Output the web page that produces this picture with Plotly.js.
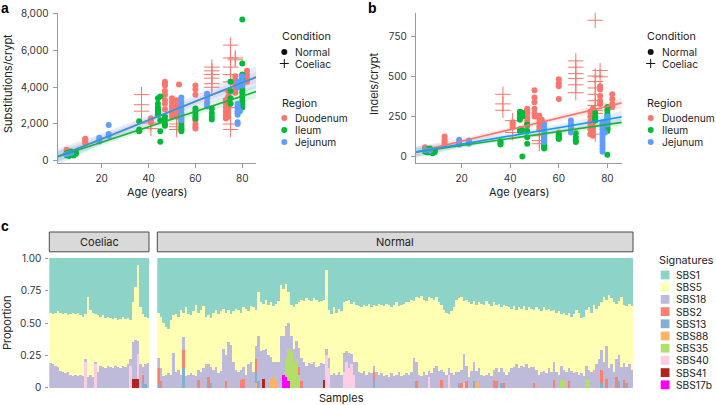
<!DOCTYPE html>
<html><head><meta charset="utf-8">
<script src="https://cdn.plot.ly/plotly-3.0.1.min.js"></script>
<style>html,body{margin:0;padding:0;background:#fff}#chart{width:716px;height:405px}</style>
</head><body><div id="chart"></div>
<script>
// ---------- Panel a/b data (age, substitutions per crypt, indels per crypt) ----------
const duoAge = [5,6,13,13,13,13,41,41,41,47,47,47,47,47,47,47,47,50,50,50,50,50,50,52,52,52,52,52,53,60,60,60,60,60,60,60,65,65,73,73,73,73,73,73,74,74,74,74,74,74,74,77,77,77,77,77,82,82,82,82];
const duoSubs = [600,500,950,1050,1150,1200,2200,2100,2300,4300,4200,4100,3800,3600,3300,3100,2800,3400,3200,3000,2800,2600,2400,3300,3000,2800,2600,2400,4150,4100,3900,3600,2200,2000,1850,1750,3600,3200,3300,3100,2900,2700,2500,2300,3800,3500,3200,3000,2800,2600,2400,4600,4400,4200,3900,3700,4900,4700,4500,4300];
const duoIndels = [58,45,75,90,105,125,200,185,215,300,290,275,260,240,220,205,190,415,370,340,300,270,250,255,230,210,190,170,230,485,460,440,360,150,135,120,200,180,280,250,220,200,170,140,300,270,240,210,180,160,130,440,420,380,350,330,390,360,330,310];

const ileAge = [5,5,6,6,7,7,8,8,9,9,36,36,36,44,44,44,44,44,44,44,45,45,45,45,47,47,47,47,54,54,54,54,54,54,54,60,60,60,60,60,67,67,67,67,75,75,75,75,80,80,80,80,80,80,80,80,80,80,80,80];
const ileSubs = [300,400,250,450,350,500,280,420,380,460,2150,1700,1600,3400,3100,2900,2800,2700,2600,2500,3500,1030,1600,2200,2400,2200,2000,1900,2500,2300,2100,1900,1800,1700,1600,2850,2700,2550,2400,2300,2850,2600,2400,2250,4300,3800,3400,3100,7700,5300,4700,4500,4300,4100,3900,3700,3500,3300,3100,2900];
const ileIndels = [30,40,25,45,35,50,20,38,42,28,95,85,75,280,265,250,240,230,170,160,275,0,165,250,160,120,80,200,70,60,50,130,110,90,55,140,130,125,115,110,145,120,100,90,275,250,235,225,10,310,290,270,255,240,225,210,195,180,170,160];

const jejAge = [5,7,19,19,19,23,23,23,54,54,54,54,54,54,54,65,65,65,65,78,78,78,78,78,78,78,78,78,78,78,79,80,80,80];
const jejSubs = [350,420,1050,1200,1250,1950,1450,1350,3450,3200,3000,2800,2600,2400,2200,3650,3400,3100,2950,4300,4000,3000,2900,2800,2700,2600,2100,2000,3100,2500,2700,4600,4300,4100];
const jejIndels = [40,35,105,90,75,100,90,80,205,180,160,140,120,100,90,225,200,175,150,215,200,185,170,150,130,110,90,70,50,30,150,250,230,200];

const coeAge = [37,37,37,41,41,52,52,52,67,67,67,67,67,67,75,75,75,75,75,75,75,75,75,75,77,77];
const coeSubs = [3600,3050,2700,1750,2050,1700,1850,2000,5100,4900,4700,4500,4200,4000,6300,5600,5100,4700,4300,3800,3400,2900,2000,1700,5600,5500];
const coeIndels = [390,330,290,225,150,80,100,130,600,560,520,490,450,400,855,505,470,430,390,350,320,290,270,140,540,500];

// fitted lines and confidence bands
const fitAge = [0,20,45,65,87];
const fitSubsDuo = [170,1188,2460,3478,4598], loSubsDuo=[-130,1018,2320,3278,4278], hiSubsDuo=[470,1358,2600,3678,4918];
const fitSubsIle = [172,1008,2053,2889,3809], loSubsIle=[-128,828,1903,2669,3429], hiSubsIle=[472,1188,2203,3109,4189];
const fitSubsJej = [160,1184,2464,3488,4614], loSubsJej=[-290,904,2214,3108,4014], hiSubsJej=[610,1464,2714,3868,5214];
const fitIndDuo = [22,95,186,259,340], loIndDuo=[-13,75,171,239,305], hiIndDuo=[57,115,201,279,375];
const fitIndIle = [25,69,124,168,216], loIndIle=[-3,54,113,154,191], hiIndIle=[53,84,135,182,241];
const fitIndJej = [25,77,142,194,251], loIndJej=[-10,57,126,172,213], hiIndJej=[60,97,158,216,289];

const subsTicks = [0,2000,4000,6000,8000];
const indelTicks = [0,250,500,750];
const ageTicks = [20,40,60,80];

// ---------- Panel c data (signature proportions per sample) ----------
const signatures = ['SBS1','SBS5','SBS18','SBS2','SBS13','SBS88','SBS35','SBS40','SBS41','SBS17b'];
const sigColors = ['#8DD3C7','#FFFFB3','#BEBADA','#FB8072','#80B1D3','#FDB462','#B3DE69','#FCCDE5','#B22222','#FF00FF'];
const propTicks = [0,0.25,0.5,0.75,1];
const propTickText = ['0','0.25','0.50','0.75','1.00'];

const coeSBS1 = [0.42,0.43,0.42,0.41,0.42,0.43,0.42,0.44,0.43,0.42,0.43,0.42,0.44,0.45,0.43,0.30,0.40,0.42,0.43,0.44,0.45,0.44,0.46,0.45,0.46,0.47,0.46,0.48,0.47,0.45,0.47,0.46,0.48,0.34,0.22,0.05,0.38,0.43,0.45,0.46];
const coeSBS18 = [0.19,0.18,0.17,0.16,0.13,0.12,0.11,0.12,0.10,0.09,0.10,0.09,0.10,0.09,0.02,0.08,0.10,0.08,0.02,0.12,0.17,0.16,0.15,0.17,0.16,0.15,0.17,0.16,0.15,0.17,0.16,0.18,0.05,0.28,0.30,0.10,0.18,0.06,0.15,0.19];
const coeSBS2Idx=[37], coeSBS2Val=[0.05];
const coeSBS13Idx=[37,38], coeSBS13Val=[0.05,0.03];
const coeSBS88Idx=[], coeSBS88Val=[];
const coeSBS35Idx=[], coeSBS35Val=[];
const coeSBS40Idx=[14,18,32,35], coeSBS40Val=[0.20,0.18,0.17,0.19];
const coeSBS41Idx=[33,34,35], coeSBS41Val=[0.07,0.07,0.07];
const coeSBS17bIdx=[], coeSBS17bVal=[];

const norSBS1 = [0.42,0.45,0.50,0.53,0.55,0.48,0.44,0.43,0.45,0.40,
0.42,0.38,0.43,0.44,0.41,0.36,0.42,0.40,0.37,0.45,
0.44,0.46,0.42,0.40,0.43,0.41,0.39,0.42,0.40,0.43,
0.41,0.39,0.40,0.42,0.38,0.39,0.41,0.37,0.38,0.40,
0.26,0.34,0.35,0.32,0.36,0.34,0.37,0.35,0.33,0.21,
0.24,0.20,0.26,0.36,0.38,0.35,0.34,0.32,0.33,0.31,
0.32,0.33,0.31,0.32,0.34,0.33,0.32,0.09,0.40,0.43,
0.38,0.42,0.39,0.41,0.34,0.33,0.32,0.35,0.34,0.36,
0.37,0.38,0.36,0.37,0.35,0.38,0.36,0.37,0.35,0.36,
0.37,0.35,0.36,0.38,0.36,0.34,0.37,0.36,0.35,0.34,
0.34,0.32,0.33,0.30,0.31,0.29,0.32,0.33,0.30,0.31,
0.32,0.30,0.34,0.36,0.40,0.42,0.43,0.41,0.38,0.32,
0.31,0.30,0.33,0.32,0.34,0.35,0.33,0.36,0.34,0.35,
0.36,0.33,0.35,0.37,0.34,0.36,0.35,0.38,0.36,0.37,
0.38,0.39,0.37,0.40,0.38,0.39,0.37,0.40,0.38,0.39,
0.40,0.38,0.39,0.41,0.38,0.40,0.39,0.41,0.40,0.42,
0.41,0.43,0.42,0.44,0.42,0.45,0.43,0.40,0.42,0.46,
0.45,0.40,0.38,0.42,0.36,0.39,0.37,0.34,0.30,0.32,
0.28,0.31,0.34,0.35,0.33,0.30,0.36,0.37,0.35,0.37];
const norSBS18 = [0.08,0.10,0.09,0.10,0.11,0.10,0.27,0.12,0.14,0.10,
0.10,0.09,0.10,0.11,0.10,0.09,0.08,0.12,0.15,0.18,
0.10,0.12,0.14,0.16,0.11,0.13,0.30,0.20,0.35,0.33,
0.20,0.14,0.12,0.08,0.09,0.10,0.18,0.20,0.12,0.10,
0.35,0.28,0.22,0.30,0.25,0.18,0.12,0.15,0.20,0.40,
0.30,0.25,0.20,0.12,0.10,0.14,0.15,0.18,0.20,0.17,
0.19,0.18,0.20,0.16,0.17,0.19,0.12,0.05,0.08,0.10,
0.11,0.10,0.12,0.10,0.15,0.08,0.12,0.08,0.10,0.20,
0.12,0.11,0.13,0.10,0.12,0.11,0.05,0.12,0.10,0.11,
0.09,0.10,0.08,0.11,0.09,0.10,0.12,0.09,0.10,0.11,
0.10,0.12,0.23,0.15,0.10,0.09,0.12,0.10,0.05,0.11,
0.15,0.17,0.13,0.08,0.12,0.10,0.05,0.11,0.10,0.12,
0.08,0.10,0.22,0.12,0.08,0.13,0.15,0.08,0.11,0.10,
0.09,0.10,0.11,0.09,0.08,0.10,0.12,0.11,0.08,0.10,
0.12,0.15,0.16,0.18,0.15,0.17,0.16,0.18,0.15,0.16,
0.12,0.14,0.10,0.12,0.13,0.11,0.15,0.12,0.14,0.12,
0.10,0.11,0.09,0.12,0.10,0.13,0.11,0.12,0.10,0.11,
0.09,0.10,0.08,0.12,0.14,0.18,0.22,0.15,0.20,0.25,
0.15,0.18,0.12,0.14,0.20,0.16,0.13,0.12,0.18,0.14];
const norSBS2Idx=[0,1,10,16,20,27,33,34,39,56,57,86,103,113,121,123,134,135,138,150,158,164,177,179,183,186];
const norSBS2Val=[0.12,0.05,0.14,0.06,0.08,0.05,0.06,0.07,0.10,0.06,0.05,0.07,0.05,0.06,0.04,0.05,0.06,0.05,0.04,0.04,0.06,0.05,0.10,0.07,0.08,0.06];
const norSBS13Idx=[0,10,21,39,40,86,120,126,137,177,184,187];
const norSBS13Val=[0.03,0.15,0.04,0.08,0.05,0.05,0.04,0.05,0.04,0.04,0.05,0.04];
const norSBS88Idx=[39,45,46,47,127,128], norSBS88Val=[0.04,0.06,0.08,0.05,0.05,0.04];
const norSBS35Idx=[51,52,53,54,55,56,161,162,171,172], norSBS35Val=[0.15,0.25,0.28,0.20,0.22,0.10,0.06,0.05,0.07,0.06];
const norSBS40Idx=[67,68,74,75,76,77,78,108,116,122], norSBS40Val=[0.25,0.15,0.12,0.20,0.15,0.18,0.10,0.08,0.10,0.04];
const norSBS41Idx=[42,66], norSBS41Val=[0.07,0.06];
const norSBS17bIdx=[50,51,52], norSBS17bVal=[0.10,0.08,0.05];

// ---------- build ----------
const W=716,H=405;
const fx=p=>p/W, fy=p=>1-p/H;
const FONT='Inter, "Noto Sans", sans-serif';
const C={Duodenum:'#F8766D',Ileum:'#00BA38',Jejunum:'#619CFF'};
const LINE={Duodenum:'#F8766D',Ileum:'#1DB33A',Jejunum:'#1E9BEF'};
const BAND={Duodenum:'rgba(248,118,109,0.15)',Ileum:'rgba(0,186,56,0.13)',Jejunum:'rgba(97,156,255,0.18)'};
const traces=[];

function band(xa,ya,lo,hi,col){
  traces.push({type:'scatter',mode:'lines',x:fitAge.concat(fitAge.slice().reverse()),
    y:hi.concat(lo.slice().reverse()),fill:'toself',fillcolor:col,line:{width:0},
    hoverinfo:'skip',showlegend:false,xaxis:xa,yaxis:ya});
}
function pts(xa,ya,x,y,col){
  traces.push({type:'scatter',mode:'markers',x:x,y:y,xaxis:xa,yaxis:ya,showlegend:false,
    marker:{size:6,color:col,line:{width:0}}});
}
function crosses(xa,ya,x,y,col){
  traces.push({type:'scatter',mode:'markers',x:x,y:y,xaxis:xa,yaxis:ya,showlegend:false,
    marker:{symbol:'cross-thin',size:11,color:col,line:{width:1,color:col}}});
}
function fit(xa,ya,y,col){
  traces.push({type:'scatter',mode:'lines',x:fitAge,y:y,xaxis:xa,yaxis:ya,showlegend:false,
    line:{color:col,width:1.7}});
}
// panel a
band('x','y',loSubsDuo,hiSubsDuo,BAND.Duodenum);
band('x','y',loSubsIle,hiSubsIle,BAND.Ileum);
band('x','y',loSubsJej,hiSubsJej,BAND.Jejunum);
pts('x','y',duoAge,duoSubs,C.Duodenum);
crosses('x','y',coeAge,coeSubs,C.Duodenum);
pts('x','y',ileAge,ileSubs,C.Ileum);
pts('x','y',jejAge,jejSubs,C.Jejunum);
fit('x','y',fitSubsDuo,LINE.Duodenum);
fit('x','y',fitSubsIle,LINE.Ileum);
fit('x','y',fitSubsJej,LINE.Jejunum);
// panel b
band('x2','y2',loIndDuo,hiIndDuo,BAND.Duodenum);
band('x2','y2',loIndIle,hiIndIle,BAND.Ileum);
band('x2','y2',loIndJej,hiIndJej,BAND.Jejunum);
pts('x2','y2',duoAge,duoIndels,C.Duodenum);
crosses('x2','y2',coeAge,coeIndels,C.Duodenum);
pts('x2','y2',ileAge,ileIndels,C.Ileum);
pts('x2','y2',jejAge,jejIndels,C.Jejunum);
fit('x2','y2',fitIndDuo,LINE.Duodenum);
fit('x2','y2',fitIndIle,LINE.Ileum);
fit('x2','y2',fitIndJej,LINE.Jejunum);

// panel c
function fromSparse(n,idx,val){const a=new Array(n).fill(0);idx.forEach((k,j)=>{a[k]=val[j];});return a;}
const MINOR=['SBS2','SBS13','SBS88','SBS35','SBS40','SBS41','SBS17b'];
function buildSet(sbs1,sbs18,minor){
  const n=sbs1.length; const set={SBS1:sbs1,SBS18:sbs18};
  MINOR.forEach(s=>{set[s]=fromSparse(n,minor[s][0],minor[s][1]);});
  set.SBS5=sbs1.map((v,i)=>{let r=1-v-sbs18[i];MINOR.forEach(s=>{r-=set[s][i];});return Math.max(r,0);});
  return set;
}
const coeSet=buildSet(coeSBS1,coeSBS18,{SBS2:[coeSBS2Idx,coeSBS2Val],SBS13:[coeSBS13Idx,coeSBS13Val],SBS88:[coeSBS88Idx,coeSBS88Val],SBS35:[coeSBS35Idx,coeSBS35Val],SBS40:[coeSBS40Idx,coeSBS40Val],SBS41:[coeSBS41Idx,coeSBS41Val],SBS17b:[coeSBS17bIdx,coeSBS17bVal]});
const norSet=buildSet(norSBS1,norSBS18,{SBS2:[norSBS2Idx,norSBS2Val],SBS13:[norSBS13Idx,norSBS13Val],SBS88:[norSBS88Idx,norSBS88Val],SBS35:[norSBS35Idx,norSBS35Val],SBS40:[norSBS40Idx,norSBS40Val],SBS41:[norSBS41Idx,norSBS41Val],SBS17b:[norSBS17bIdx,norSBS17bVal]});
const stackOrder=signatures.slice().reverse(); // bottom to top
[[coeSet,'x3','y3'],[norSet,'x4','y4']].forEach(([set,xa,ya])=>{
  stackOrder.forEach(s=>{
    const k=signatures.indexOf(s);
    traces.push({type:'bar',x:set.SBS1.map((_,i)=>i),y:set[s],xaxis:xa,yaxis:ya,showlegend:false,
      marker:{color:sigColors[k],line:{width:0}},width:1,hoverinfo:'skip'});
  });
});

// ---------- layout ----------
const axBase={showgrid:false,zeroline:false,showline:true,linecolor:'#9a9a9a',linewidth:1,ticks:'outside',
  ticklen:4,tickcolor:'#9a9a9a',tickfont:{family:FONT,size:10,color:'#333'},ticklabelstandoff:2};
const aDomY=[fy(163.3),fy(12.6)];
const cDomY=[fy(394.2),fy(251.8)];
const layout={
  width:W,height:H,margin:{l:0,r:0,t:0,b:0},paper_bgcolor:'#fff',plot_bgcolor:'rgba(0,0,0,0)',
  barmode:'stack',bargap:0,showlegend:false,font:{family:FONT,color:'#222'},
  xaxis:Object.assign({},axBase,{domain:[fx(57.5),fx(256)],range:[1.15,85.85],tickvals:ageTicks,anchor:'y'}),
  yaxis:Object.assign({},axBase,{domain:aDomY,range:[-143,8073],tickvals:subsTicks,tickformat:',',anchor:'x'}),
  xaxis2:Object.assign({},axBase,{domain:[fx(415.8),fx(621.6)],range:[1.15,85.85],tickvals:ageTicks,anchor:'y2'}),
  yaxis2:Object.assign({},axBase,{domain:aDomY,range:[-43,903],tickvals:indelTicks,anchor:'x2'}),
  xaxis3:{domain:[fx(49.3),fx(149)],range:[-0.5,39.5],anchor:'y3',showticklabels:false,ticks:'',showgrid:false,zeroline:false,showline:false},
  yaxis3:Object.assign({},axBase,{domain:cDomY,range:[-0.05,1.05],tickvals:propTicks,ticktext:propTickText,anchor:'x3',showline:false,ticklen:3}),
  xaxis4:{domain:[fx(157.3),fx(633)],range:[-0.5,189.5],anchor:'y4',showticklabels:false,ticks:'',showgrid:false,zeroline:false,showline:false},
  yaxis4:{domain:cDomY,range:[-0.05,1.05],anchor:'x4',showticklabels:false,ticks:'',showgrid:false,zeroline:false,showline:false},
  shapes:[],annotations:[]
};
function ann(text,x,y,o){layout.annotations.push(Object.assign({text:text,x:fx(x),y:fy(y),xref:'paper',yref:'paper',
  showarrow:false,xanchor:'left',yanchor:'middle',borderpad:0,font:{family:FONT,size:11,color:'#222'}},o||{}));}
const LEG={font:{family:FONT,size:10.2,color:'#222'}};
// panel letters
const bold={font:{family:'"Liberation Sans", Arial, sans-serif',size:14,color:'#000',weight:700}};
ann('<b>a</b>',0,8,bold); ann('<b>b</b>',367,8,bold); ann('<b>c</b>',0,226,bold);
// axis titles
ann('Age (years)',157,192,{xanchor:'center'});
ann('Age (years)',518.7,192,{xanchor:'center'});
ann('Substitutions/crypt',8,84,{xanchor:'center',textangle:-90});
ann('Indels/crypt',374,84,{xanchor:'center',textangle:-90});
ann('Proportion',7,323,{xanchor:'center',textangle:-90});
ann('Samples',341,398,{xanchor:'center'});
// strips
[[49.3,149,'Coeliac'],[157.3,633,'Normal']].forEach(([x0,x1,t])=>{
  layout.shapes.push({type:'rect',xref:'paper',yref:'paper',x0:fx(x0),x1:fx(x1),y0:fy(251.8),y1:fy(232),
    line:{color:'#4a4a4a',width:1},fillcolor:'#D9D9D9',layer:'above'});
  ann(t,(x0+x1)/2,242,{xanchor:'center'});
});
// condition/region legends for a and b
function circ(x,y,col){layout.shapes.push({type:'circle',xref:'paper',yref:'paper',x0:fx(x-3),x1:fx(x+3),y0:fy(y+3),y1:fy(y-3),fillcolor:col,line:{width:0}});}
function plus(x,y,col){layout.shapes.push({type:'path',xref:'paper',yref:'paper',
  path:`M${fx(x-4.5)},${fy(y)} L${fx(x+4.5)},${fy(y)} M${fx(x)},${fy(y-4.5)} L${fx(x)},${fy(y+4.5)}`,line:{color:col,width:1}});}
[[281,284.3,294.3],[645.7,650.7,660.7]].forEach(([tx,mx,lx])=>{
  ann('Condition',tx,37,{font:{family:FONT,size:10.8,color:'#222'}});
  circ(mx,52,'#111'); ann('Normal',lx,52,LEG);
  plus(mx,63.5,'#111'); ann('Coeliac',lx,64,LEG);
  ann('Region',tx,103,{font:{family:FONT,size:10.8,color:'#222'}});
  [['Duodenum',118],['Ileum',130],['Jejunum',142]].forEach(([r,y])=>{circ(mx,y,C[r]);ann(r,lx,y,LEG);});
});
// signatures legend
ann('Signatures',658,260,{font:{family:FONT,size:10.8,color:'#222'}});
signatures.forEach((s,k)=>{
  const y=275+12.2*k;
  layout.shapes.push({type:'rect',xref:'paper',yref:'paper',x0:fx(660.7),x1:fx(669.5),y0:fy(y+4.4),y1:fy(y-4.4),fillcolor:sigColors[k],line:{width:0}});
  ann(s,675,y,LEG);
});

Plotly.newPlot('chart',traces,layout,{staticPlot:true,displayModeBar:false});
</script></body></html>
